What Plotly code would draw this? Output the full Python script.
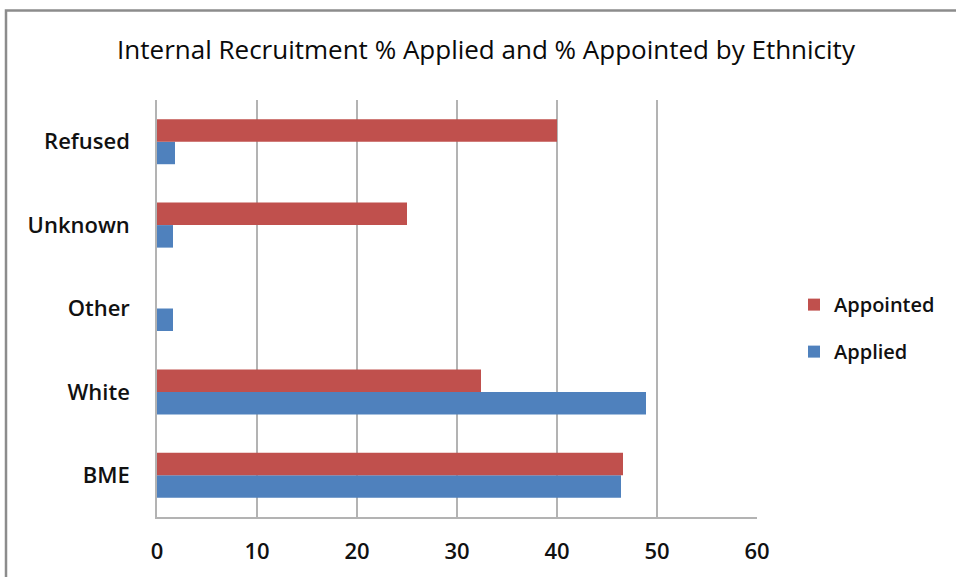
import plotly.graph_objects as go

categories = ["BME", "White", "Other", "Unknown", "Refused"]
applied = [46.4, 48.9, 1.6, 1.6, 1.8]
appointed = [46.6, 32.4, 0, 25.0, 40.0]
x_ticks = [0, 10, 20, 30, 40, 50, 60]

RED = "#C0504D"
BLUE = "#4F81BD"
FONT = "'Open Sans', Lato, sans-serif"

fig = go.Figure()
fig.add_trace(go.Bar(
    y=categories, x=applied, orientation="h", name="Applied",
    legendgroup="applied", legendrank=2,
    marker=dict(color=BLUE, line=dict(width=0)),
))
fig.add_trace(go.Bar(
    y=categories, x=appointed, orientation="h", name="Appointed",
    legendgroup="appointed", legendrank=1,
    marker=dict(color=RED, line=dict(width=0)),
))

W, H = 956, 577
L, R, T, B = 157, 199, 100, 58
pw, ph = W - L - R, H - T - B

def px_x(p):
    return (p - L) / pw

def px_y(p):
    return 1 - (p - T) / ph

fig.update_layout(
    width=W, height=H,
    margin=dict(l=L, r=R, t=T, b=B, pad=0),
    paper_bgcolor="white", plot_bgcolor="white",
    barmode="group", bargap=0.46, bargroupgap=0,
    title=dict(
        text="Internal Recruitment % Applied and % Appointed by Ethnicity",
        x=486 / W, xanchor="center", y=1 - 50 / H, yanchor="middle",
        font=dict(family=FONT, size=26, color="#0a0a0a"),
    ),
    xaxis=dict(
        range=[0, 60], tickvals=x_ticks, ticktext=[str(v) for v in x_ticks],
        showgrid=True, gridcolor="#B3B3B3", gridwidth=1.5,
        showline=True, linecolor="#B3B3B3", linewidth=1.5,
        zeroline=False, ticks="", ticklabelstandoff=14,
        tickfont=dict(family=FONT, size=22, color="#111", weight=600),
        fixedrange=True,
    ),
    yaxis=dict(
        categoryorder="array", categoryarray=categories,
        showgrid=False, showline=True, linecolor="#B3B3B3", linewidth=1.5,
        ticks="", ticklabelstandoff=21,
        tickfont=dict(family=FONT, size=22, color="#111", weight=600),
        fixedrange=True,
    ),
    legend=dict(
        x=px_x(794), xanchor="left", y=px_y(286), yanchor="top",
        traceorder="grouped", tracegroupgap=18,
        font=dict(family=FONT, size=20, color="#111", weight=600),
        itemwidth=30, bgcolor="rgba(0,0,0,0)",
    ),
    showlegend=True,
)

# outer chart frame
fig.add_shape(
    type="rect", xref="paper", yref="paper",
    x0=px_x(6), x1=px_x(W + 20), y0=px_y(H + 20), y1=px_y(10),
    line=dict(color="#8C8C8C", width=2.5), fillcolor="rgba(0,0,0,0)",
    layer="below",
)

fig.write_html(
    "out.html",
    config={"displayModeBar": False},
    post_script="document.body.style.margin='0';document.body.style.overflow='hidden';"
                "document.documentElement.style.overflow='hidden';",
)
